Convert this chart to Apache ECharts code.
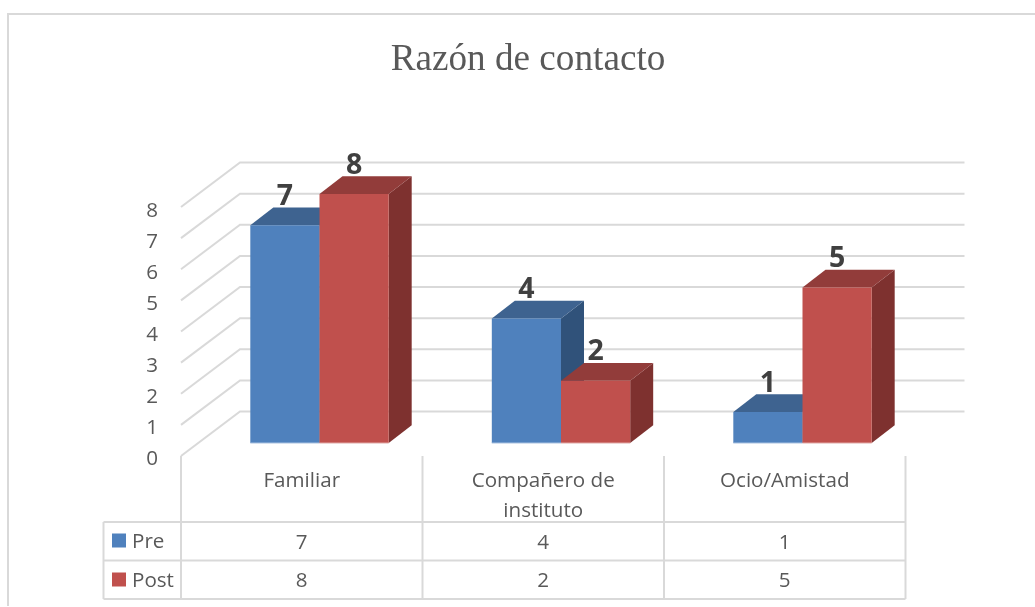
<!DOCTYPE html>
<html><head><meta charset="utf-8">
<style>html,body{margin:0;padding:0;background:#fff}#c{width:1035px;height:607px}</style>
<script src="https://cdn.jsdelivr.net/npm/echarts@6/dist/echarts.min.js"></script>
</head><body><div id="c"></div>
<script>
const titleText = 'Razón de contacto';
const categories = ['Familiar', 'Compañero de\ninstituto', 'Ocio/Amistad'];
const preValues = [7, 4, 1];
const postValues = [8, 2, 5];
const ticks = [0, 1, 2, 3, 4, 5, 6, 7, 8];

const GRID = '#D9D9D9', TXT = '#595959', FONT = '"Open Sans"', FS = 20.6;
const WALL_DX = 59, WALL_DY = -44.5;   // front plane -> back wall
const BAR_DX = 23, BAR_DY = -17.7;     // bar depth
const ROW1 = 66, ROW2 = 104.5, ROW3 = 143; // table rows below the floor front edge

const line = (pts, z) => ({type: 'polyline', shape: {points: pts}, z2: z || 0,
  style: {stroke: GRID, lineWidth: 2, fill: null}, silent: true});

function wallItem(params, api) {
  const v = api.value(0);
  const a = api.coord([0, v]);
  const w = api.size([1, 0])[0] * categories.length;
  const bx = a[0] - api.size([1, 0])[0] / 2;
  return line([[bx, a[1]], [bx + WALL_DX, a[1] + WALL_DY], [bx + w + WALL_DX, a[1] + WALL_DY]]);
}

function tableItem(params, api) {
  const i = api.value(0);
  const c = api.coord([i, 0]);
  const bw = api.size([1, 0])[0];
  const y0 = c[1], x = c[0], right = x + bw / 2;
  const tx = (t, yy) => ({type: 'text', style: {text: String(t), x: x, y: yy, fill: TXT,
    fontSize: FS, fontFamily: FONT, align: 'center', verticalAlign: 'middle'}});
  const kids = [
    line([[right, y0], [right, y0 + ROW3]]),
    tx(api.value(1), y0 + (ROW1 + ROW2) / 2 + 1.5),
    tx(api.value(2), y0 + (ROW2 + ROW3) / 2 + 1.5)
  ];
  if (i === 0) {
    const left = x - bw / 2, far = left - 77.5;
    kids.push(line([[left, y0], [left, y0 + ROW3]]));
    kids.push(line([[far, y0 + ROW1], [far, y0 + ROW3]]));
    [ROW1, ROW2, ROW3].forEach(r => kids.push(line([[far, y0 + r], [left + bw * categories.length, y0 + r]])));
  }
  return {type: 'group', children: kids};
}

function barItem(front, top, side, edge) {
  return function (params, api) {
    const i = api.value(0), v = api.value(1), s = api.value(2);
    const bw = api.size([1, 0])[0] * 0.2865;
    const c = api.coord([i, v]), b = api.coord([i, 0]);
    const x0 = c[0] + (s === 0 ? -bw : 0), x1 = x0 + bw;
    const poly = (pts, fill) => ({type: 'polygon', shape: {points: pts}, style: {fill: fill}});
    return {type: 'group', children: [
      poly([[x1, c[1]], [x1 + BAR_DX, c[1] + BAR_DY], [x1 + BAR_DX, b[1] + BAR_DY], [x1, b[1]]], side),
      poly([[x0, c[1]], [x0 + BAR_DX, c[1] + BAR_DY], [x1 + BAR_DX, c[1] + BAR_DY], [x1, c[1]]], top),
      poly([[x0, c[1]], [x1, c[1]], [x1, b[1]], [x0, b[1]]], front),
      {type: 'line', shape: {x1: x0, y1: b[1], x2: x1, y2: b[1]}, style: {stroke: edge, lineWidth: 1}},
      {type: 'text', z2: 5, style: {text: String(v), x: (x0 + x1) / 2, y: c[1] - 28.5, fill: '#404040',
        fontSize: 28.5, fontWeight: 'bold', fontFamily: FONT, align: 'center', verticalAlign: 'middle'}}
    ]};
  };
}

const chart = echarts.init(document.getElementById('c'), null, {renderer: 'canvas'});
chart.setOption({
  animation: false,
  backgroundColor: '#fff',
  title: {text: titleText, left: 523, top: 37, textAlign: 'center',
    textStyle: {fontFamily: '"Liberation Serif"', fontSize: 37.2, fontWeight: 'normal', color: TXT}},
  legend: {data: ['Pre', 'Post'], orient: 'vertical', left: 112, top: 528, padding: 0, icon: 'rect',
    itemWidth: 14, itemHeight: 14, itemGap: 14, selectedMode: false,
    formatter: name => '{t|' + name + '}',
    textStyle: {fontFamily: FONT, fontSize: FS, color: TXT,
      rich: {t: {fontFamily: FONT, fontSize: FS, color: TXT, lineHeight: 20, padding: [4, 0, 0, 1]}}}},
  grid: [
    {left: 198.75, width: 724.5, top: 194, height: 249},
    {left: 181, width: 724.5, top: 207, height: 249},
    {left: 181, width: 724.5, top: 211, height: 248}
  ],
  xAxis: [
    {type: 'category', gridIndex: 0, data: categories, show: false},
    {type: 'category', gridIndex: 1, data: categories,
      axisLine: {show: false}, axisTick: {show: false},
      axisLabel: {interval: 0, margin: 10, fontFamily: FONT, fontSize: FS, color: TXT, lineHeight: 30}},
    {type: 'category', gridIndex: 2, data: categories, show: false}
  ],
  yAxis: [
    {type: 'value', gridIndex: 0, min: 0, max: 8, interval: 1, show: false},
    {type: 'value', gridIndex: 1, min: 0, max: 8, interval: 1, show: false},
    {type: 'value', gridIndex: 2, min: 0, max: 8, interval: 1,
      axisLine: {show: false}, axisTick: {show: false}, splitLine: {show: false},
      axisLabel: {margin: 23, fontFamily: FONT, fontSize: FS, color: TXT}}
  ],
  graphic: [{type: 'polyline', shape: {points: [[8, 606], [8, 14], [1035, 14]]},
    style: {stroke: GRID, lineWidth: 2, fill: null}, silent: true}],
  series: [
    {type: 'custom', xAxisIndex: 1, yAxisIndex: 1, z: 1, clip: false, silent: true, renderItem: wallItem,
      encode: {y: 0}, data: ticks.map(t => [t])},
    {type: 'custom', xAxisIndex: 1, yAxisIndex: 1, z: 1, clip: false, silent: true, renderItem: tableItem,
      encode: {x: 0}, data: categories.map((c, i) => [i, preValues[i], postValues[i]])},
    {name: 'Pre', type: 'custom', xAxisIndex: 0, yAxisIndex: 0, z: 2, clip: false, silent: true,
      itemStyle: {color: '#4F81BD'}, renderItem: barItem('#4F81BD', '#3E6390', '#30527A', '#A9C1E0'),
      encode: {x: 0, y: 1}, data: preValues.map((v, i) => [i, v, 0])},
    {name: 'Post', type: 'custom', xAxisIndex: 0, yAxisIndex: 0, z: 3, clip: false, silent: true,
      itemStyle: {color: '#C0504D'}, renderItem: barItem('#C0504D', '#923C3A', '#7E312F', '#E0A9A7'),
      encode: {x: 0, y: 1}, data: postValues.map((v, i) => [i, v, 1])}
  ]
});
</script></body></html>
